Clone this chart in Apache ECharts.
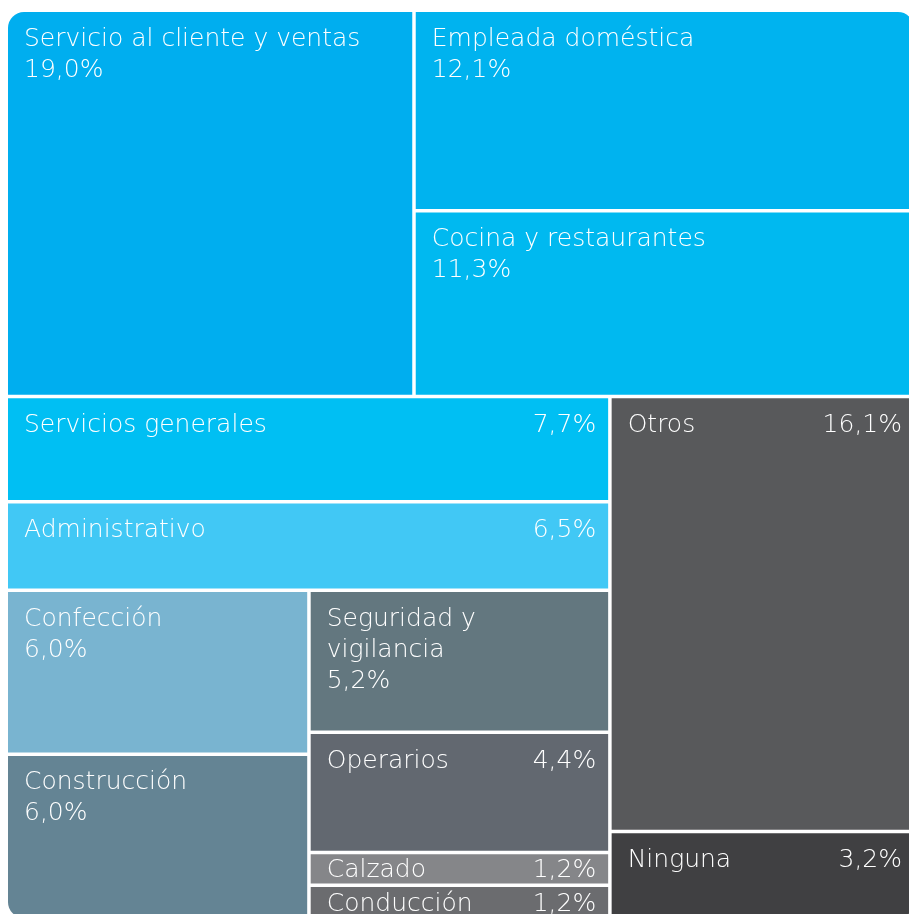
<!DOCTYPE html>
<html>
<head>
<meta charset="utf-8">
<title>Ocupaciones</title>
<script src="https://cdn.jsdelivr.net/npm/echarts@6/dist/echarts.min.js"></script>
<style>
  html, body { margin: 0; padding: 0; background: #ffffff; }
  #chart { width: 909px; height: 914px; }
</style>
</head>
<body>
<div id="chart"></div>
<script>
// Occupation groups and their share of the total (%)
const categories = [
  'Servicio al cliente y ventas',
  'Empleada doméstica',
  'Cocina y restaurantes',
  'Servicios generales',
  'Administrativo',
  'Confección',
  'Construcción',
  'Seguridad y\nvigilancia',
  'Operarios',
  'Calzado',
  'Conducción',
  'Otros',
  'Ninguna'
];
const shares = [19.0, 12.1, 11.3, 7.7, 6.5, 6.0, 6.0, 5.2, 4.4, 1.2, 1.2, 16.1, 3.2];

// Cell fill colours, one per category
const colors = [
  '#00aeef', '#00b3ef', '#00b9f0', '#00bff3', '#41c8f5', '#79b4d0', '#648494',
  '#63777f', '#626870', '#858689', '#6b6c6f', '#58595b', '#404042'
];

// Categories whose value sits on the same line as the name, right aligned
const inlineValue = [3, 4, 8, 9, 10, 11, 12];

// How the area is divided: 'col' stacks parts top to bottom, 'row' sets them side by side.
// Numbers are indices into categories/shares; every part gets room in proportion to its share.
const splitPlan = ['col',
  ['row', 0, ['col', 1, 2]],
  ['row',
    ['col', 3, 4, ['row', ['col', 5, 6], ['col', 7, 8, 9, 10]]],
    ['col', 11, 12]
  ]
];

function weight(node) {
  if (typeof node === 'number') return shares[node];
  let s = 0;
  for (let k = 1; k < node.length; k++) s += weight(node[k]);
  return s;
}

// Slice-and-dice: computes each cell's extent in the unit square from the shares
function slice(node, x0, y0, x1, y1, out) {
  if (typeof node === 'number') {
    out[node] = [x0, y0, x1, y1];
    return;
  }
  const total = weight(node);
  let pos = node[0] === 'row' ? x0 : y0;
  for (let k = 1; k < node.length; k++) {
    const part = weight(node[k]) / total;
    if (node[0] === 'row') {
      const end = k === node.length - 1 ? x1 : pos + part * (x1 - x0);
      slice(node[k], pos, y0, end, y1, out);
      pos = end;
    } else {
      const end = k === node.length - 1 ? y1 : pos + part * (y1 - y0);
      slice(node[k], x0, pos, x1, end, out);
      pos = end;
    }
  }
}

const extents = [];
slice(splitPlan, 0, 0, 1, 1, extents);

const fmt = v => v.toFixed(1).replace('.', ',') + '%';

const seriesData = categories.map((name, i) => ({
  name: name,
  value: [extents[i][0], extents[i][1], extents[i][2], extents[i][3], shares[i], i]
}));

const GAP = 3.5;
const CORNER = 16;
const FONT = 25;
const LINE = 31;
const EPS = 1e-6;

function renderItem(params, api) {
  const x0 = api.value(0), y0 = api.value(1), x1 = api.value(2), y1 = api.value(3);
  const share = api.value(4);
  const i = api.value(5);
  const a = api.coord([x0, y0]);
  const b = api.coord([x1, y1]);
  const h = GAP / 2;
  const left = a[0] + (x0 > EPS ? h : 0);
  const top = a[1] + (y0 > EPS ? h : 0);
  const right = b[0] - (x1 < 1 - EPS ? h : 0);
  const bottom = b[1] - (y1 < 1 - EPS ? h : 0);
  const w = right - left, hh = bottom - top;

  // round only the outer corners of the whole block
  const r = [
    x0 < EPS && y0 < EPS ? CORNER : 0,
    x1 > 1 - EPS && y0 < EPS ? CORNER : 0,
    x1 > 1 - EPS && y1 > 1 - EPS ? CORNER : 0,
    x0 < EPS && y1 > 1 - EPS ? CORNER : 0
  ];

  const padL = 16;
  const padR = 12;
  const capTop = Math.min(18, (hh - 18) / 2 + 2);
  const firstMid = top + capTop + 9;
  const lines = categories[i].split('\n');
  const textStyleBase = {
    fill: '#ffffff',
    fontFamily: '"DejaVu Sans", sans-serif',
    fontWeight: 200,
    fontSize: FONT,
    verticalAlign: 'middle'
  };

  const children = [{
    type: 'rect',
    shape: { x: left, y: top, width: w, height: hh, r: r },
    style: { fill: colors[i] }
  }];
  lines.forEach((ln, k) => {
    children.push({
      type: 'text',
      style: Object.assign({}, textStyleBase, {
        text: ln, x: left + padL, y: firstMid + k * LINE, align: 'left'
      })
    });
  });
  if (inlineValue.indexOf(i) >= 0) {
    children.push({
      type: 'text',
      style: Object.assign({}, textStyleBase, {
        text: fmt(share), x: right - padR, y: firstMid, align: 'right'
      })
    });
  } else {
    children.push({
      type: 'text',
      style: Object.assign({}, textStyleBase, {
        text: fmt(share), x: left + padL, y: firstMid + lines.length * LINE, align: 'left'
      })
    });
  }
  return { type: 'group', children: children };
}

const chart = echarts.init(document.getElementById('chart'), null, { renderer: 'canvas' });
chart.setOption({
  animation: false,
  backgroundColor: '#ffffff',
  grid: { left: 8, top: 12, width: 906, height: 906, outerBoundsMode: 'none', containLabel: false },
  xAxis: { type: 'value', min: 0, max: 1, show: false },
  yAxis: { type: 'value', min: 0, max: 1, inverse: true, show: false },
  series: [{
    type: 'custom',
    renderItem: renderItem,
    encode: { x: [0, 2], y: [1, 3] },
    data: seriesData,
    silent: true
  }]
});
</script>
</body>
</html>
